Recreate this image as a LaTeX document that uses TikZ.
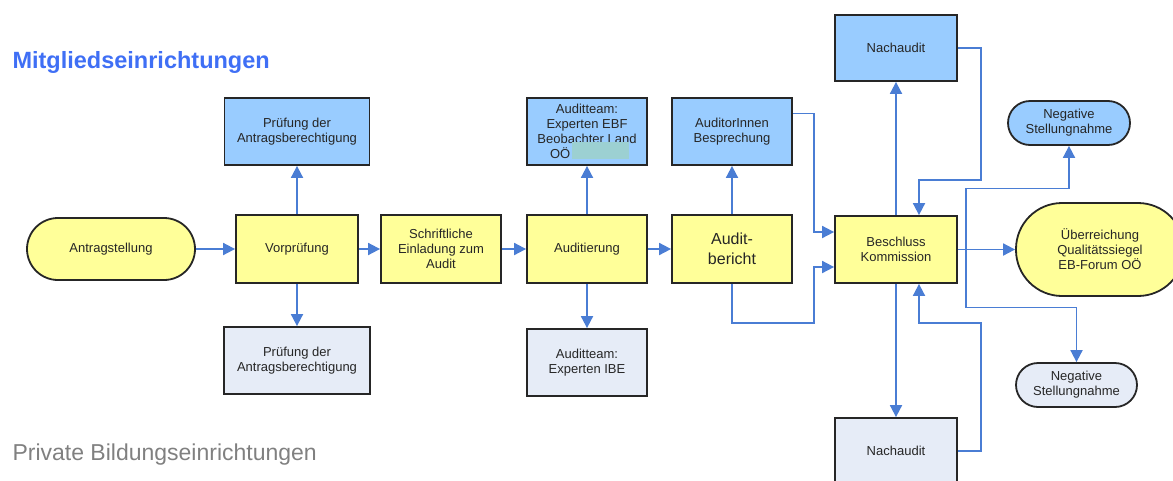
\documentclass[tikz,border=0pt]{standalone}
\usepackage{fontspec}
\setmainfont{Liberation Sans}
\usetikzlibrary{arrows.meta,calc}
\definecolor{ylw}{HTML}{FFFF99}
\definecolor{blu}{HTML}{99CCFF}
\definecolor{lgt}{HTML}{E6ECF7}
\definecolor{arrc}{HTML}{4A7DD4}
\definecolor{bord}{HTML}{262626}
\definecolor{ttl}{HTML}{3F6FF5}
\definecolor{teal}{HTML}{9CD0D2}
\tikzset{
  box/.style={draw=bord,line width=1.8pt,inner sep=0pt,align=center,
    font=\fontsize{13}{15}\selectfont,text=black!85},
  ybox/.style={box,fill=ylw},
  bbox/.style={box,fill=blu},
  lbox/.style={box,fill=lgt},
  conn/.style={draw=arrc,line width=1.8pt,-{Triangle[length=12pt,width=12pt]}},
  line/.style={draw=arrc,line width=1.8pt}
}
\begin{document}
\begin{tikzpicture}[x=1pt,y=-1pt]
\useasboundingbox (0,0) rectangle (1173,480);
\clip (0,0) rectangle (1173,480);
\node[anchor=west,font=\fontsize{23.5}{26}\selectfont\bfseries,text=ttl] (title) at (9,62) {Mitgliedseinrichtungen};
\node[anchor=west,font=\fontsize{23}{26}\selectfont,text=black!50] (sub) at (9,455) {Private Bildungseinrichtungen};

\node[ybox,rounded corners=31pt,minimum width=168pt,minimum height=62pt] (ant) at (111,249) {Antragstellung};
\node[ybox,minimum width=122pt,minimum height=68pt] (vor) at (297,249) {Vorprüfung};
\node[bbox,minimum width=145pt,minimum height=67pt] (pt) at (297,131.5) {Prüfung der\\Antragsberechtigung};
\node[lbox,minimum width=146pt,minimum height=67pt] (pb) at (297,360.5) {Prüfung der\\Antragsberechtigung};
\node[ybox,minimum width=120pt,minimum height=68pt] (sch) at (441,249) {Schriftliche\\Einladung zum\\Audit};
\node[ybox,minimum width=120pt,minimum height=68pt] (aud) at (587,249) {Auditierung};
\node[bbox,minimum width=120pt,minimum height=67pt] (att) at (587,131.5) {Auditteam:\\Experten EBF\\Beobachter Land\\\makebox[100pt][l]{\hspace{13pt}OÖ}};
\fill[teal] (572,142) rectangle (629,159);
\node[lbox,minimum width=120pt,minimum height=67pt] (atb) at (587,362.5) {Auditteam:\\Experten IBE};
\node[ybox,minimum width=120pt,minimum height=68pt,font=\fontsize{16}{20}\selectfont] (ab) at (732,249) {Audit-\\bericht};
\node[bbox,minimum width=120pt,minimum height=67pt] (aib) at (732,131.5) {AuditorInnen\\Besprechung};
\node[ybox,minimum width=122pt,minimum height=67pt] (bk) at (896,249.5) {Beschluss\\Kommission};
\node[bbox,minimum width=122pt,minimum height=66pt] (nt) at (896,48) {Nachaudit};
\node[lbox,minimum width=122pt,minimum height=66pt] (nb) at (896,451) {Nachaudit};
\node[bbox,rounded corners=22pt,minimum width=122pt,minimum height=44pt] (ngt) at (1069,123) {Negative\\Stellungnahme};
\node[lbox,rounded corners=22pt,minimum width=121pt,minimum height=44pt] (ngb) at (1076.5,385) {Negative\\Stellungnahme};
\node[ybox,rounded corners=46pt,minimum width=168pt,minimum height=93pt] (ue) at (1100,249.5) {Überreichung\\Qualitätssiegel\\EB-Forum OÖ};

\draw[conn] (ant) -- (vor);
\draw[conn] (vor) -- (pt);
\draw[conn] (vor) -- (pb);
\draw[conn] (vor) -- (sch);
\draw[conn] (sch) -- (aud);
\draw[conn] (aud) -- (att);
\draw[conn] (aud) -- (atb);
\draw[conn] (aud) -- (ab);
\draw[conn] (ab) -- (aib);
\draw[conn] ([yshift=18pt]aib.east) -| ([xshift=-20pt,yshift=17.5pt]bk.west) -- ([yshift=17.5pt]bk.west);
\draw[conn] (ab.south) -- ++(0,39) -| ([xshift=-20pt,yshift=-17.5pt]bk.west) -- ([yshift=-17.5pt]bk.west);
\draw[conn] (bk.north) -- (nt.south);
\draw[conn] (nt.east) -- ++(23,0) |- ([xshift=23pt,yshift=35pt]bk.north) -- ([xshift=23pt]bk.north);
\draw[conn] (bk.south) -- (nb.north);
\draw[conn] (nb.east) -- ++(23,0) |- ([xshift=23pt,yshift=-39pt]bk.south) -- ([xshift=23pt]bk.south);
\draw[conn] (bk.east) -- (ue.west);
\coordinate (br) at (966,249.5);
\draw[conn] (br) -- ++(0,-61) -| (ngt.south);
\draw[conn] (br) -- ++(0,58) -| (ngb.north);
\end{tikzpicture}
\end{document}
